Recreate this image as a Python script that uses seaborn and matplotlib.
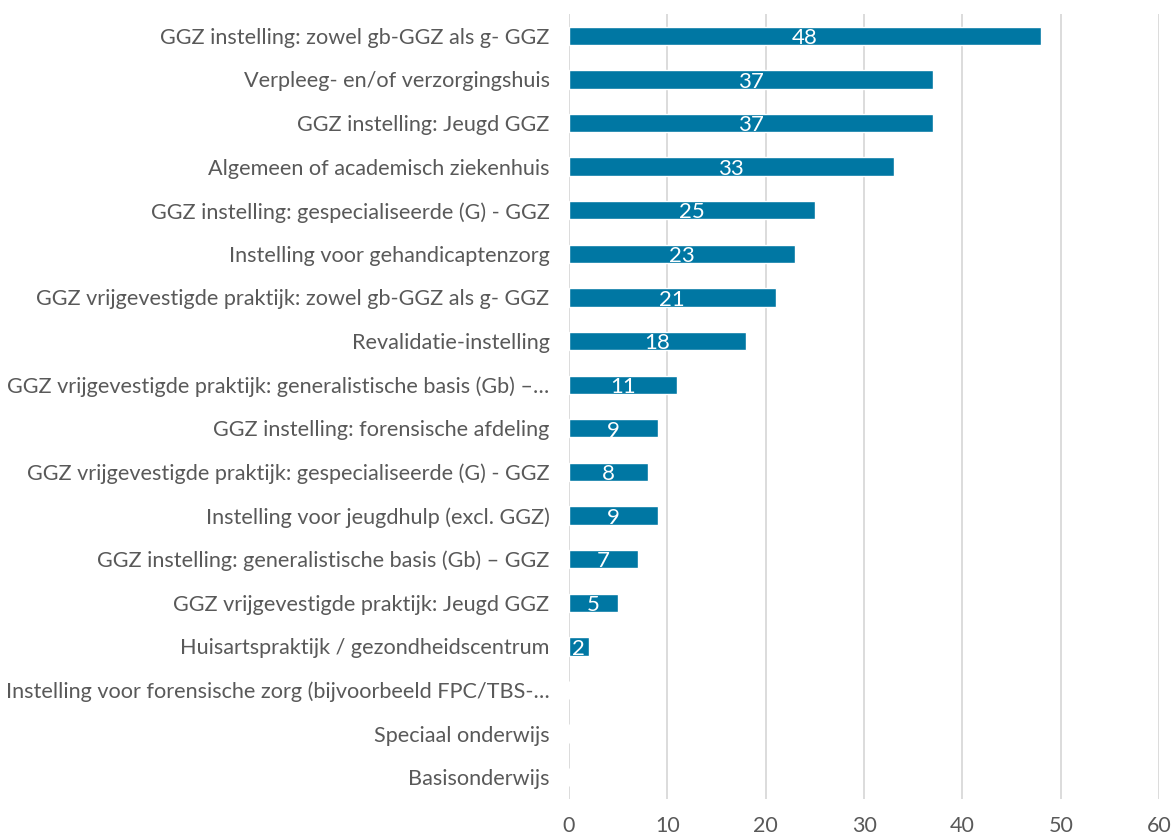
import matplotlib
matplotlib.use('Agg')
import matplotlib.pyplot as plt
import seaborn as sns
import pandas as pd

# Categories and counts
categories = [
    'GGZ instelling: zowel gb-GGZ als g- GGZ',
    'Verpleeg- en/of verzorgingshuis',
    'GGZ instelling: Jeugd GGZ',
    'Algemeen of academisch ziekenhuis',
    'GGZ instelling: gespecialiseerde (G) - GGZ',
    'Instelling voor gehandicaptenzorg',
    'GGZ vrijgevestigde praktijk: zowel gb-GGZ als g- GGZ',
    'Revalidatie-instelling',
    'GGZ vrijgevestigde praktijk: generalistische basis (Gb) –…',
    'GGZ instelling: forensische afdeling',
    'GGZ vrijgevestigde praktijk: gespecialiseerde (G) - GGZ',
    'Instelling voor jeugdhulp (excl. GGZ)',
    'GGZ instelling: generalistische basis (Gb) – GGZ',
    'GGZ vrijgevestigde praktijk: Jeugd GGZ',
    'Huisartspraktijk / gezondheidscentrum',
    'Instelling voor forensische zorg (bijvoorbeeld FPC/TBS-…',
    'Speciaal onderwijs',
    'Basisonderwijs',
]
counts = [48, 37, 37, 33, 25, 23, 21, 18, 11, 9, 8, 9, 7, 5, 2, 0, 0, 0]
xticks = [0, 10, 20, 30, 40, 50, 60]

df = pd.DataFrame({'Categorie': categories, 'Aantal': counts})

sns.set_style('white')
plt.rcParams['font.family'] = ['Lato', 'DejaVu Sans']

fig = plt.figure(figsize=(11.74, 8.38), dpi=100)
ax = fig.add_axes([0.4847, 0.0465, 0.5026, 0.9368])

bar_color = '#0077A3'
sns.barplot(data=df, x='Aantal', y='Categorie', color=bar_color, width=0.42,
            saturation=1, ax=ax, zorder=3)

ax.set_xlim(0, 60)
ax.set_xticks(xticks)
ax.grid(axis='x', color='#D9D9D9', linewidth=1.3, zorder=0)
ax.grid(axis='y', visible=False)
for s in ax.spines.values():
    s.set_visible(False)

ax.set_xlabel('')
ax.set_ylabel('')
ax.tick_params(axis='x', length=0, pad=12, labelsize=15.5, labelcolor='#595959')
ax.tick_params(axis='y', length=0, pad=14, labelsize=15.6, labelcolor='#595959')

# value labels centred in the bars
for i, v in enumerate(counts):
    ax.text(v / 2, i + 0.05, str(v), ha='center', va='center', color='white',
            fontsize=16, zorder=4)

plt.savefig('out.png', dpi=100)
